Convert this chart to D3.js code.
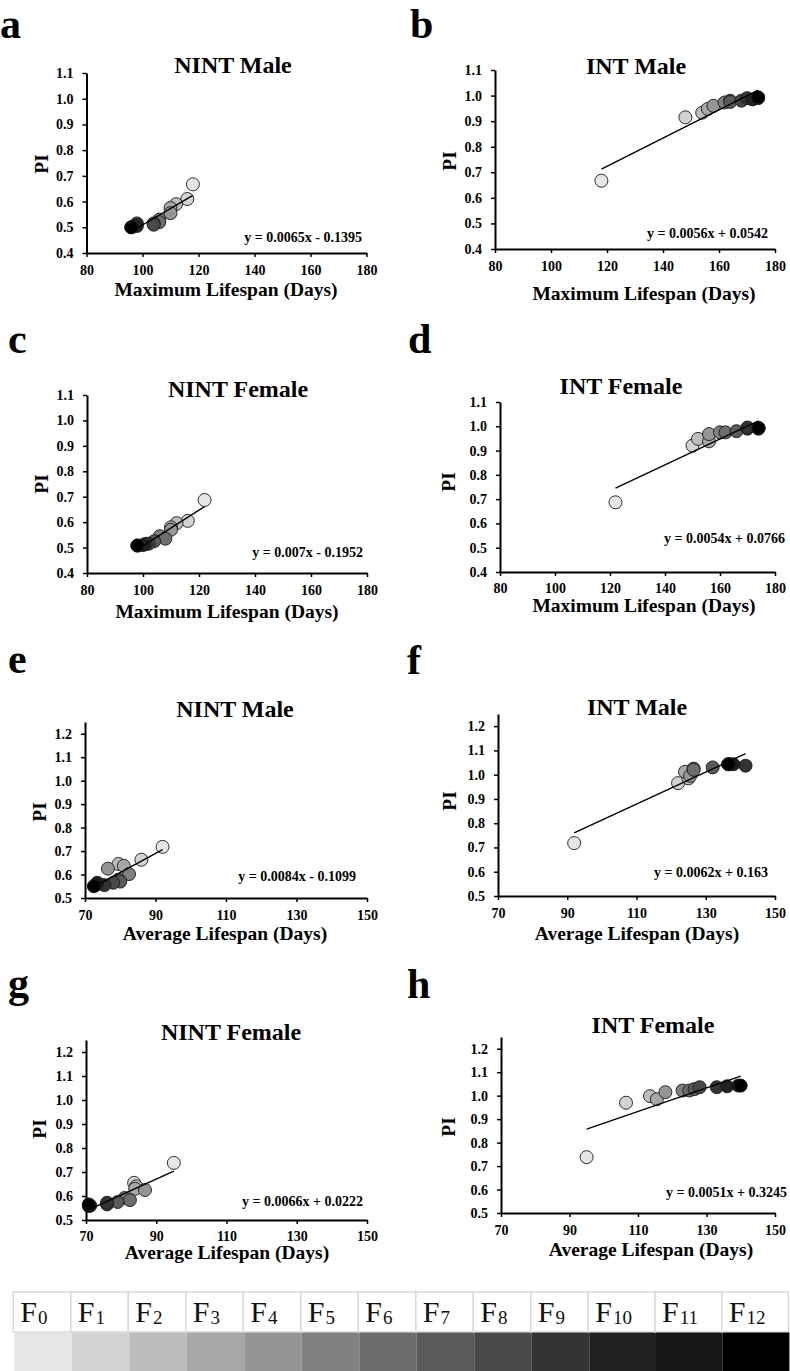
<!DOCTYPE html>
<html>
<head>
<meta charset="utf-8">
<script src="https://cdn.jsdelivr.net/npm/d3@7"></script>
<style>
  body { margin: 0; background: #fff; }
  svg text { font-family: "Liberation Serif", "Times New Roman", serif; }
</style>
</head>
<body>
<svg id="fig" width="790" height="1371"></svg>
<script>
// generations F0..F12 and their grey levels
const generations = [0, 1, 2, 3, 4, 5, 6, 7, 8, 9, 10, 11, 12];
const genColors = ["#e6e6e6", "#d3d3d3", "#bdbdbd", "#a8a8a8", "#959595", "#808080", "#6d6d6d",
                   "#5a5a5a", "#484848", "#333333", "#212121", "#161616", "#000000"];

const panelLetters = ["a", "b", "c", "d", "e", "f", "g", "h"];
const panelTitles = ["NINT Male", "INT Male", "NINT Female", "INT Female",
                     "NINT Male", "INT Male", "NINT Female", "INT Female"];
const xTitles = ["Maximum Lifespan (Days)", "Maximum Lifespan (Days)", "Maximum Lifespan (Days)", "Maximum Lifespan (Days)",
                 "Average Lifespan (Days)", "Average Lifespan (Days)", "Average Lifespan (Days)", "Average Lifespan (Days)"];
const equations = ["y = 0.0065x - 0.1395", "y = 0.0056x + 0.0542", "y = 0.007x - 0.1952", "y = 0.0054x + 0.0766",
                   "y = 0.0084x - 0.1099", "y = 0.0062x + 0.163", "y = 0.0066x + 0.0222", "y = 0.0051x + 0.3245"];

// tick labels
const maxLifeTicks = [80, 100, 120, 140, 160, 180];
const avgLifeTicks = [70, 90, 110, 130, 150];
const piTicksMax = [0.4, 0.5, 0.6, 0.7, 0.8, 0.9, 1.0, 1.1];
const piTicksAvg = [0.5, 0.6, 0.7, 0.8, 0.9, 1.0, 1.1, 1.2];

// a: NINT male, maximum lifespan (F0..F12)
const nintMaleMaxX = [118, 116, 112, 110, 110, 106, 106, 104, 104, 98, 98, 96, 96];
const nintMaleMaxPI = [0.667, 0.610, 0.590, 0.575, 0.555, 0.530, 0.520, 0.515, 0.510, 0.515, 0.505, 0.500, 0.500];
// b: INT male, maximum lifespan
const intMaleMaxX = [118, 148, 154, 156, 158, 162, 164, 164, 168, 170, 172, 174, 174];
const intMaleMaxPI = [0.667, 0.915, 0.933, 0.948, 0.960, 0.973, 0.980, 0.975, 0.980, 0.990, 0.985, 0.990, 0.993];
// c: NINT female, maximum lifespan
const nintFemaleMaxX = [122, 116, 112, 110, 110, 106, 108, 104, 102, 101, 100, 98, 98];
const nintFemaleMaxPI = [0.687, 0.605, 0.596, 0.580, 0.570, 0.545, 0.535, 0.525, 0.515, 0.515, 0.510, 0.508, 0.508];
// d: INT female, maximum lifespan
const intFemaleMaxX = [122, 150, 152, 156, 156, 160, 162, 166, 170, 170, 174, 174, 174];
const intFemaleMaxPI = [0.687, 0.920, 0.948, 0.938, 0.968, 0.975, 0.975, 0.980, 0.990, 0.995, 0.990, 0.993, 0.993];
// e: NINT male, average lifespan
const nintMaleAvgX = [92, 86, 79.5, 81, 76.5, 82.5, 79.5, 80, 78, 75.5, 73.5, 73, 72.5];
const nintMaleAvgPI = [0.718, 0.663, 0.645, 0.637, 0.625, 0.602, 0.578, 0.570, 0.565, 0.555, 0.565, 0.555, 0.550];
// f: INT male, average lifespan
const intMaleAvgX = [92, 122, 125, 124, 125.5, 126.5, 126.5, 132, 136.5, 141.5, 138, 137, 136.5];
const intMaleAvgPI = [0.718, 0.965, 0.985, 1.012, 0.995, 1.025, 1.020, 1.030, 1.043, 1.037, 1.043, 1.043, 1.043];
// g: NINT female, average lifespan
const nintFemaleAvgX = [95, 83.7, 84.3, 84, 86.8, 81, 82.5, 79, 76, 76, 71.2, 70.8, 70.8];
const nintFemaleAvgPI = [0.738, 0.655, 0.640, 0.630, 0.625, 0.592, 0.583, 0.575, 0.565, 0.572, 0.560, 0.558, 0.565];
// h: INT female, average lifespan
const intFemaleAvgX = [95, 106.5, 113.5, 115.5, 118, 123, 125, 126.5, 128, 133, 136, 139.3, 140];
const intFemaleAvgPI = [0.738, 0.970, 0.998, 0.985, 1.015, 1.022, 1.022, 1.028, 1.036, 1.036, 1.040, 1.043, 1.043];

const panelX = [nintMaleMaxX, intMaleMaxX, nintFemaleMaxX, intFemaleMaxX, nintMaleAvgX, intMaleAvgX, nintFemaleAvgX, intFemaleAvgX];
const panelY = [nintMaleMaxPI, intMaleMaxPI, nintFemaleMaxPI, intFemaleMaxPI, nintMaleAvgPI, intMaleAvgPI, nintFemaleAvgPI, intFemaleAvgPI];

// page layout of each panel (plot box + text anchors)
const layout = [
  { x0: 86.5, x1: 366.5, yb: 253, yt: 73,   pad: 8, letter: [0, 38],    title: [233, 73],   pi: [41, 164],   xt: [226, 296],  eq: [362, 242] },
  { x0: 495,  x1: 775,   yb: 249, yt: 70,   pad: 8, letter: [410, 38],  title: [636, 74],   pi: [449, 161],  xt: [644, 300],  eq: [768, 238] },
  { x0: 87,   x1: 367,   yb: 573, yt: 395,  pad: 8, letter: [8, 353],   title: [238, 397],  pi: [41, 484],   xt: [227, 618],  eq: [363, 557] },
  { x0: 500,  x1: 775,   yb: 572, yt: 402,  pad: 7, letter: [408, 353], title: [621, 394],  pi: [448, 482],  xt: [644, 612],  eq: [785, 543] },
  { x0: 85,   x1: 367,   yb: 898, yt: 722,  pad: 8, letter: [8, 673],   title: [235, 717],  pi: [39, 812],   xt: [225, 940],  eq: [356, 881] },
  { x0: 498,  x1: 775,   yb: 896, yt: 714,  pad: 8, letter: [407, 674], title: [637, 715],  pi: [449, 801],  xt: [637, 940],  eq: [768, 877] },
  { x0: 86,   x1: 367,   yb: 1220, yt: 1040, pad: 7, letter: [8, 997],  title: [231, 1040], pi: [39, 1129],  xt: [227, 1259], eq: [363, 1206] },
  { x0: 501,  x1: 775,   yb: 1213, yt: 1037, pad: 8, letter: [407, 998], title: [653, 1033], pi: [448, 1127], xt: [651, 1256], eq: [787, 1197] }
];

const svg = d3.select("#fig");
svg.append("rect").attr("width", 790).attr("height", 1371).attr("fill", "#fff");

layout.forEach(function (L, i) {
  const isAvg = i >= 4;
  const xs = panelX[i], ys = panelY[i];

  const x = d3.scaleLinear().domain(isAvg ? [70, 150] : [80, 180]).range([L.x0, L.x1]);
  const y = d3.scaleLinear().domain(isAvg ? [0.5, 1.25] : [0.4, 1.1]).range([L.yb, L.yt]);

  const g = svg.append("g").attr("class", "panel");

  // panel letter
  g.append("text")
    .attr("x", L.letter[0]).attr("y", L.letter[1])
    .attr("font-size", 42).attr("font-weight", "bold")
    .text(panelLetters[i]);

  // title
  g.append("text")
    .attr("x", L.title[0]).attr("y", L.title[1])
    .attr("text-anchor", "middle")
    .attr("font-size", 24).attr("font-weight", "bold")
    .text(panelTitles[i]);

  // axes
  const xAxis = g.append("g")
    .attr("transform", "translate(0," + L.yb + ")")
    .call(d3.axisBottom(x).tickValues(isAvg ? avgLifeTicks : maxLifeTicks)
      .tickSize(4).tickSizeOuter(0).tickPadding(L.pad).tickFormat(d3.format("d")));

  const yAxis = g.append("g")
    .attr("transform", "translate(" + L.x0 + ",0)")
    .call(d3.axisLeft(y).tickValues(isAvg ? piTicksAvg : piTicksMax)
      .tickSize(4).tickSizeOuter(0).tickPadding(9).tickFormat(d3.format(".1f")));

  [xAxis, yAxis].forEach(function (ax) {
    ax.attr("font-size", 14).attr("font-weight", "bold");
    ax.select(".domain").attr("stroke", "#000").attr("stroke-width", 2);
    ax.selectAll(".tick line").attr("stroke", "#000").attr("stroke-width", 1.5);
    ax.selectAll(".tick text").attr("fill", "#000");
  });

  // axis titles
  g.append("text")
    .attr("x", L.xt[0]).attr("y", L.xt[1])
    .attr("text-anchor", "middle")
    .attr("font-size", 19.5).attr("font-weight", "bold")
    .text(xTitles[i]);

  g.append("text")
    .attr("transform", "translate(" + L.pi[0] + "," + L.pi[1] + ") rotate(-90)")
    .attr("text-anchor", "middle")
    .attr("dominant-baseline", "central")
    .attr("font-size", 19.5).attr("font-weight", "bold")
    .text("PI");

  // points, F0 first so the later generations sit on top
  g.append("g").selectAll("circle")
    .data(generations)
    .enter()
    .append("circle")
    .attr("cx", k => x(xs[k]))
    .attr("cy", k => y(ys[k]))
    .attr("r", 6.5)
    .attr("fill", k => genColors[k])
    .attr("stroke", "#1a1a1a")
    .attr("stroke-width", 0.9);

  // least squares trend line over the data range
  const mx = d3.mean(xs), my = d3.mean(ys);
  const slope = d3.sum(xs, (v, k) => (v - mx) * (ys[k] - my)) / d3.sum(xs, v => (v - mx) * (v - mx));
  const icpt = my - slope * mx;
  const ext = d3.extent(xs);
  const line = d3.line().x(d => x(d)).y(d => y(slope * d + icpt));

  g.append("path")
    .datum(ext)
    .attr("d", line)
    .attr("fill", "none")
    .attr("stroke", "#000")
    .attr("stroke-width", 1.4);

  // equation
  g.append("text")
    .attr("x", L.eq[0]).attr("y", L.eq[1])
    .attr("text-anchor", "end")
    .attr("font-size", 14).attr("font-weight", "bold")
    .text(equations[i]);
});

// generation legend at the bottom
const legend = svg.append("g").attr("class", "legend");
let cx = 13.3;
generations.forEach(function (gn) {
  const w = gn >= 10 ? 66.7 : 57.5;

  legend.append("rect")
    .attr("x", cx).attr("y", 1292)
    .attr("width", w).attr("height", 40)
    .attr("fill", "#fff")
    .attr("stroke", "#d9d9d9")
    .attr("stroke-width", 1.5);

  legend.append("rect")
    .attr("x", cx + 1).attr("y", 1332.5)
    .attr("width", w).attr("height", 38.5)
    .attr("fill", genColors[gn]);

  const t = legend.append("text")
    .attr("x", cx + 7).attr("y", 1322)
    .attr("font-size", 30)
    .attr("fill", "#111")
    .text("F");
  t.append("tspan")
    .attr("font-size", 19)
    .attr("dx", 1)
    .attr("dy", 2)
    .text(gn);

  cx += w;
});
</script>
</body>
</html>
